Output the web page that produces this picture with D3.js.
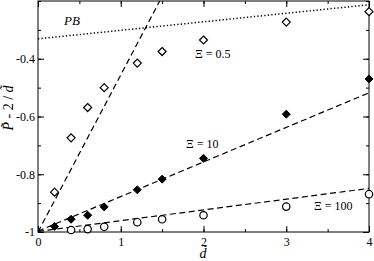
<!DOCTYPE html>
<html lang="en">
<head>
    <meta charset="UTF-8">
    <script src="https://d3js.org/d3.v7.min.js"></script>
    <style>
        body { margin: 0; background: #fff; }
        svg { display: block; }
        svg text { font-family: "Liberation Serif", "Times New Roman", serif; }
    </style>
</head>
<body>
    <svg id="chart" width="374" height="261"></svg>

    <script>
        // d values (x axis) and P - 2/d values for each Xi
        const dHalf = [0.2, 0.4, 0.6, 0.8, 1.2, 1.5, 2, 3, 4];
        const pHalf = [-0.862, -0.674, -0.569, -0.5, -0.415, -0.375, -0.335, -0.273, -0.237];
        const dTen = [0.2, 0.4, 0.6, 0.8, 1.2, 1.5, 2, 3, 4];
        const pTen = [-0.981, -0.956, -0.942, -0.913, -0.854, -0.817, -0.745, -0.592, -0.47];
        const dHundred = [0.4, 0.6, 0.8, 1.2, 1.5, 2, 3, 4];
        const pHundred = [-0.993, -0.99, -0.982, -0.966, -0.956, -0.942, -0.912, -0.869];

        // fitted lines: [x0, y0, x1, y1]
        const fitHalf = [0, -1, 1.48, -0.195];
        const fitTen = [0, -0.997, 4, -0.518];
        const fitHundred = [0, -0.998, 4, -0.849];
        const linePB = [0, -0.331, 4, -0.213];

        const xTicks = [0, 1, 2, 3, 4];
        const yTicks = [-1, -0.8, -0.6, -0.4];

        const svg = d3.select("#chart");
        const x = d3.scaleLinear().domain([0, 4]).range([38, 369]);
        const y = d3.scaleLinear().domain([-1, -0.2]).range([232, 1]);

        const xMinor = d3.range(0, 4.01, 0.5);
        const yMinor = d3.range(-1, -0.19, 0.1);

        // axes with inward ticks
        const fmt = d => d === -1 ? "-1" : String(d);
        const noDomain = g => g.select(".domain").remove();
        svg.append("g").attr("transform", "translate(0,232)")
            .call(d3.axisBottom(x).tickValues(xMinor).tickSize(-3).tickFormat("")).call(noDomain);
        svg.append("g").attr("transform", "translate(0,232)")
            .call(d3.axisBottom(x).tickValues(xTicks).tickSize(-6).tickPadding(5).tickFormat(d3.format("d"))).call(noDomain);
        svg.append("g").attr("transform", "translate(0,1)")
            .call(d3.axisTop(x).tickValues(xMinor).tickSize(-3).tickFormat("")).call(noDomain);
        svg.append("g").attr("transform", "translate(0,1)")
            .call(d3.axisTop(x).tickValues(xTicks).tickSize(-6).tickFormat("")).call(noDomain);
        svg.append("g").attr("transform", "translate(38,0)")
            .call(d3.axisLeft(y).tickValues(yMinor).tickSize(-3).tickFormat("")).call(noDomain);
        svg.append("g").attr("transform", "translate(38,0)")
            .call(d3.axisLeft(y).tickValues(yTicks).tickSize(-6).tickPadding(3).tickFormat(fmt)).call(noDomain);
        svg.append("g").attr("transform", "translate(369,0)")
            .call(d3.axisRight(y).tickValues(yMinor).tickSize(-3).tickFormat("")).call(noDomain);
        svg.append("g").attr("transform", "translate(369,0)")
            .call(d3.axisRight(y).tickValues(yTicks).tickSize(-6).tickFormat("")).call(noDomain);
        svg.selectAll("g").attr("font-family", null);
        svg.selectAll(".tick text").attr("font-size", 12).attr("fill", "#000");

        svg.append("rect").attr("x", 38).attr("y", 1).attr("width", 331).attr("height", 231)
            .attr("fill", "none").attr("stroke", "#000").attr("stroke-width", 1);

        // lines
        svg.append("clipPath").attr("id", "clip").append("rect")
            .attr("x", 38).attr("y", 1).attr("width", 331).attr("height", 231);
        const plot = svg.append("g").attr("clip-path", "url(#clip)");
        [fitHalf, fitTen, fitHundred].forEach(f => {
            plot.append("line").attr("x1", x(f[0])).attr("y1", y(f[1]))
                .attr("x2", x(f[2])).attr("y2", y(f[3]))
                .attr("stroke", "#000").attr("stroke-width", 1.2).attr("stroke-dasharray", "6,3.5");
        });
        plot.append("line").attr("x1", x(linePB[0])).attr("y1", y(linePB[1]))
            .attr("x2", x(linePB[2])).attr("y2", y(linePB[3]))
            .attr("stroke", "#000").attr("stroke-width", 1.5).attr("stroke-dasharray", "1.3,2.2");

        // markers
        const diamond = "M0,-4L4,0L0,4L-4,0Z";
        svg.selectAll(".half").data(dHalf).enter().append("path")
            .attr("transform", (d, i) => `translate(${x(d)},${y(pHalf[i])})`)
            .attr("d", diamond).attr("fill", "#fff").attr("stroke", "#000").attr("stroke-width", 1.2);
        svg.selectAll(".ten").data(dTen).enter().append("path")
            .attr("transform", (d, i) => `translate(${x(d)},${y(pTen[i])})`)
            .attr("d", diamond).attr("fill", "#000").attr("stroke", "#000").attr("stroke-width", 1);
        svg.selectAll(".hundred").data(dHundred).enter().append("circle")
            .attr("cx", d => x(d)).attr("cy", (d, i) => y(pHundred[i]))
            .attr("r", 3.7).attr("fill", "#fff").attr("stroke", "#000").attr("stroke-width", 1.2);

        // annotations
        svg.append("text").attr("x", 64).attr("y", 25).attr("font-style", "italic")
            .attr("font-size", 13).text("PB");
        svg.append("text").attr("x", 195).attr("y", 58).attr("font-size", 12).text("Ξ = 0.5");
        svg.append("text").attr("x", 186).attr("y", 148).attr("font-size", 12).text("Ξ = 10");
        svg.append("text").attr("x", 314).attr("y", 210).attr("font-size", 12).text("Ξ = 100");

        // axis titles (tilde via combining character)
        svg.append("text").attr("x", 203).attr("y", 258).attr("text-anchor", "middle")
            .attr("font-size", 14).attr("font-style", "italic").text("d\u0303");
        const yl = svg.append("text").attr("transform", "translate(13,108) rotate(-90)")
            .attr("text-anchor", "middle").attr("font-size", 14);
        yl.append("tspan").attr("font-style", "italic").text("P\u0303");
        yl.append("tspan").text(" - 2 / ");
        yl.append("tspan").attr("font-style", "italic").text("d\u0303");
    </script>
</body>
</html>
